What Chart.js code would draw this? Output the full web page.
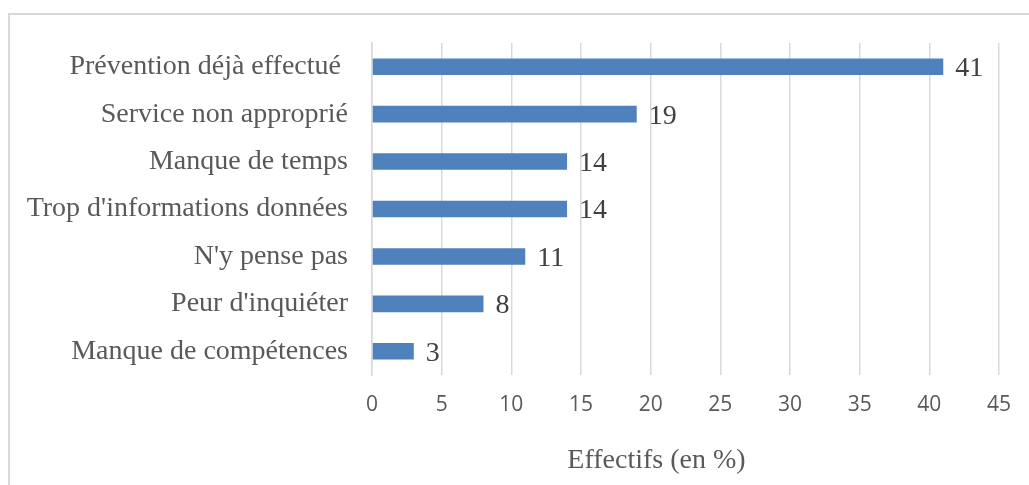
<!DOCTYPE html>
<html>
<head>
<meta charset="utf-8">
<script src="https://cdn.jsdelivr.net/npm/chart.js@4.4.0/dist/chart.umd.min.js"></script>
<style>
  body { margin: 0; background: #fff; }
  #frame { position: absolute; left: 8px; top: 13px; width: 1040px; height: 500px;
           border-left: 2px solid #d9d9d9; border-top: 2px solid #d9d9d9; }
  #wrap { position: absolute; left: 0; top: 0; width: 1029px; height: 485px; }
</style>
</head>
<body>
<div id="frame"></div>
<div id="wrap"><canvas id="barChart"></canvas></div>
<script>
// categories and values
const categories = [
    'Prévention déjà effectué ',
    'Service non approprié',
    'Manque de temps',
    "Trop d'informations données",
    "N'y pense pas",
    "Peur d'inquiéter",
    'Manque de compétences'
];
const values = [41, 19, 14, 14, 11, 8, 3];
const xTicks = [0, 5, 10, 15, 20, 25, 30, 35, 40, 45];
const xTitle = 'Effectifs (en %)';

const serif = '"Liberation Serif", "Times New Roman", serif';

// draw the value next to each bar, and the axis title (a bit left of centre, like the original)
const valueLabels = {
    id: 'valueLabels',
    afterDatasetsDraw(chart) {
        const ctx = chart.ctx;
        const meta = chart.getDatasetMeta(0);
        ctx.save();
        ctx.font = '28px ' + serif;
        ctx.fillStyle = '#404040';
        ctx.textBaseline = 'middle';
        ctx.textAlign = 'left';
        meta.data.forEach((bar, i) => {
            ctx.fillText(String(values[i]), bar.x + 12, bar.y + 2);
        });
        const area = chart.chartArea;
        ctx.fillStyle = '#595959';
        ctx.textAlign = 'center';
        ctx.fillText(xTitle, (area.left + area.right) / 2 - 29, area.bottom + 86);
        ctx.restore();
    }
};

const ctx = document.getElementById('barChart').getContext('2d');
new Chart(ctx, {
    type: 'bar',
    data: {
        labels: categories,
        datasets: [{
            data: values,
            backgroundColor: '#4f81bd',
            barPercentage: 0.35,
            categoryPercentage: 1
        }]
    },
    options: {
        indexAxis: 'y',
        responsive: true,
        maintainAspectRatio: false,
        animation: false,
        layout: { padding: { top: 43, right: 30, bottom: 0, left: 0 } },
        plugins: {
            legend: { display: false },
            tooltip: { enabled: false }
        },
        scales: {
            x: {
                min: 0,
                max: 45,
                afterBuildTicks: scale => {
                    scale.ticks = xTicks.map(v => ({ value: v }));
                },
                afterFit: scale => { scale.height = 110; },
                grid: { color: '#d9d9d9', lineWidth: 1.5, drawTicks: false },
                border: { display: false },
                ticks: {
                    padding: 17,
                    color: '#595959',
                    font: { family: '"Open Sans", sans-serif', size: 21 }
                }
            },
            y: {
                afterFit: scale => { scale.width = 372; },
                grid: { display: false, drawTicks: false },
                border: { display: true, color: '#d9d9d9', width: 1.5 },
                ticks: {
                    padding: 24,
                    color: '#595959',
                    font: { family: serif, size: 28 }
                }
            }
        }
    },
    plugins: [valueLabels]
});
</script>
</body>
</html>
